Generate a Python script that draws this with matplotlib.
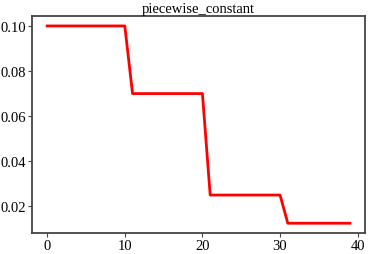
import numpy as np
import matplotlib.pyplot as plt

plt.rcParams['font.family'] = ['Liberation Serif', 'DejaVu Serif']

# learning rate per epoch
epochs = list(range(40))
lr = [0.1] * 11 + [0.07] * 10 + [0.025] * 10 + [0.0125] * 9

fig, ax = plt.subplots(figsize=(3.68, 2.55), dpi=100)
ax.plot(epochs, lr, color='red', linewidth=2)
ax.set_title("piecewise_constant", fontsize=10.5, pad=3)
ax.set_yticks([0.02, 0.04, 0.06, 0.08, 0.10])
ax.tick_params(labelsize=10.5, color='#444444', length=3, pad=1.5)
for s in ax.spines.values():
    s.set_color('#444444')
    s.set_linewidth(1.3)

fig.subplots_adjust(left=0.087, right=0.992, top=0.933, bottom=0.082)
fig.savefig("out.png")
